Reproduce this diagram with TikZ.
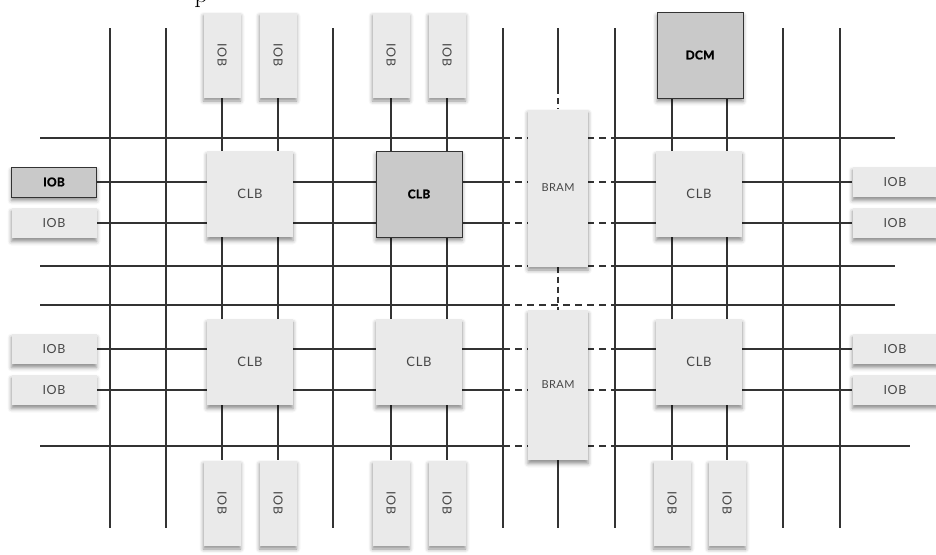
\documentclass[tikz,border=0pt]{standalone}
\usepackage{fontspec}
\setmainfont{Lato}
\newfontfamily\capfont{Latin Modern Roman}
\usetikzlibrary{backgrounds,shadows.blur}
\definecolor{boxlight}{HTML}{EAEAEA}
\definecolor{boxdark}{HTML}{C9C9C9}
\definecolor{wire}{HTML}{333333}
\tikzset{
  blk/.style={fill=boxlight, draw=none, inner sep=0pt, text=black!72,
    blur shadow={shadow xshift=0pt, shadow yshift=-3.5pt, shadow blur radius=4pt, shadow opacity=45},
    font=\fontsize{12.5}{14}\selectfont\addfontfeature{LetterSpace=5}},
  dark/.style={fill=boxdark, draw=black!80, line width=0.9pt, text=black,
    font=\fontsize{12}{14}\selectfont\bfseries\addfontfeature{FakeBold=1.5,LetterSpace=2}},
  iob/.style={blk, minimum width=85pt, minimum height=30pt},
  iobv/.style={blk, minimum width=37pt, minimum height=85pt},
  clb/.style={blk, minimum size=86pt, font=\fontsize{13}{15}\selectfont\addfontfeature{LetterSpace=5}},
  bram/.style={blk, minimum width=60pt, font=\fontsize{11}{13}\selectfont\addfontfeature{LetterSpace=4}},
  wire/.style={draw=wire, line width=1.6pt},
  gap/.style={wire, dash pattern=on 7pt off 5pt}
}
\begin{document}
\begin{tikzpicture}
    [x=1pt,y=-1pt]
    \useasboundingbox (0,0) rectangle (936,554);
    %cut caption
    \node[font=\capfont\fontsize{26}{30}\selectfont, anchor=base, inner sep=0pt] (cap) at (201,2) {p};
    %top IOBs and DCM
    \node[iobv] (t1) at (222,55) {\rotatebox{-90}{IOB}};
    \node[iobv] (t2) at (278,55) {\rotatebox{-90}{IOB}};
    \node[iobv] (t3) at (391,55) {\rotatebox{-90}{IOB}};
    \node[iobv] (t4) at (447,55) {\rotatebox{-90}{IOB}};
    \node[clb,dark] (dcm) at (700,55) {DCM};
    %bottom IOBs
    \node[iobv] (b1) at (222,503) {\rotatebox{-90}{IOB}};
    \node[iobv] (b2) at (278,503) {\rotatebox{-90}{IOB}};
    \node[iobv] (b3) at (391,503) {\rotatebox{-90}{IOB}};
    \node[iobv] (b4) at (447,503) {\rotatebox{-90}{IOB}};
    \node[iobv] (b5) at (672,503) {\rotatebox{-90}{IOB}};
    \node[iobv] (b6) at (727,503) {\rotatebox{-90}{IOB}};
    %left IOBs
    \node[iob,dark] (l1) at (54,182) {IOB};
    \node[iob] (l2) at (54,223) {IOB};
    \node[iob] (l3) at (54,349) {IOB};
    \node[iob] (l4) at (54,390) {IOB};
    %right IOBs
    \node[iob] (r1) at (895,182) {IOB};
    \node[iob] (r2) at (895,223) {IOB};
    \node[iob] (r3) at (895,349) {IOB};
    \node[iob] (r4) at (895,390) {IOB};
    %CLBs
    \node[clb] (c1) at (250,194) {CLB};
    \node[clb,dark] (c2) at (419,194) {CLB};
    \node[clb] (c3) at (699,194) {CLB};
    \node[clb] (c4) at (250,362) {CLB};
    \node[clb] (c5) at (419,362) {CLB};
    \node[clb] (c6) at (699,362) {CLB};
    %BRAMs
    \node[bram, minimum height=157pt] (m1) at (558,188) {BRAM};
    \node[bram, minimum height=150pt] (m2) at (558,385) {BRAM};
    %edges of the BRAM column
    \coordinate (bl) at (503,0);
    \coordinate (br) at (615,0);
    \begin{scope}[on background layer]
    %vertical channels
    \draw[wire] (110,28)--(110,528);
    \draw[wire] (166,28)--(166,528);
    \draw[wire] (333,28)--(333,528);
    \draw[wire] (503,28)--(503,528);
    \draw[wire] (615,28)--(615,528);
    \draw[wire] (783,28)--(783,528);
    \draw[wire] (840,28)--(840,528);
    %horizontal channels
    \draw[wire] (40,138)--(503,138); \draw[gap] (503,138)--(615,138); \draw[wire] (615,138)--(895,138);
    \draw[wire] (40,266)--(503,266); \draw[gap] (503,266)--(615,266); \draw[wire] (615,266)--(895,266);
    \draw[wire] (40,305)--(503,305); \draw[gap] (503,305)--(615,305); \draw[wire] (615,305)--(895,305);
    \draw[wire] (40,446)--(503,446); \draw[gap] (503,446)--(615,446); \draw[wire] (615,446)--(910,446);
    %IOB to IOB, vertical
    \draw[wire] (t1)--(b1);
    \draw[wire] (t2)--(b2);
    \draw[wire] (t3)--(b3);
    \draw[wire] (t4)--(b4);
    \draw[wire] (dcm.south -| b5)--(b5);
    \draw[wire] (dcm.south -| b6)--(b6);
    %IOB to IOB, horizontal
    \draw[wire] (l1)--(l1 -| bl); \draw[gap] (l1 -| bl)--(l1 -| br); \draw[wire] (l1 -| br)--(r1);
    \draw[wire] (l2)--(l2 -| bl); \draw[gap] (l2 -| bl)--(l2 -| br); \draw[wire] (l2 -| br)--(r2);
    \draw[wire] (l3)--(l3 -| bl); \draw[gap] (l3 -| bl)--(l3 -| br); \draw[wire] (l3 -| br)--(r3);
    \draw[wire] (l4)--(l4 -| bl); \draw[gap] (l4 -| bl)--(l4 -| br); \draw[wire] (l4 -| br)--(r4);
    %BRAM column
    \draw[wire] (558,28)--(558,88);
    \draw[gap, dash pattern=on 6pt off 4pt] (558,88)--(m1);
    \draw[gap, dash pattern=on 6pt off 4pt] (m1)--(m2);
    \draw[wire] (m2)--(558,528);
    \end{scope}
\end{tikzpicture}
\end{document}
